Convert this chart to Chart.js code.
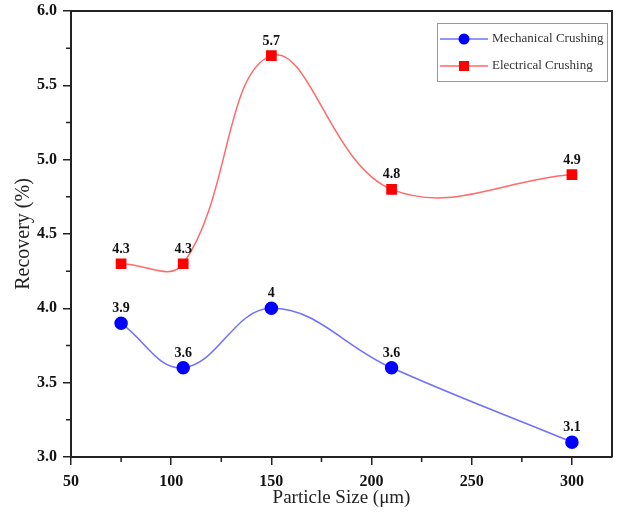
<!DOCTYPE html>
<html>
<head>
<meta charset="utf-8">
<script src="https://cdn.jsdelivr.net/npm/chart.js@4/dist/chart.umd.min.js"></script>
<style>
  html, body { margin: 0; padding: 0; background: #fff; }
  #wrap { width: 628px; height: 513px; }
</style>
</head>
<body>
<div id="wrap"><canvas id="chartdispArea" width="628" height="513"></canvas></div>
<script>
var particleSizes = [75, 106, 150, 210, 300];
var mechanicalRecovery = [3.9, 3.6, 4.0, 3.6, 3.1];
var electricalRecovery = [4.3, 4.3, 5.7, 4.8, 4.9];
var seriesNames = ['Mechanical Crushing', 'Electrical Crushing'];
var xMinorTicks = [75, 125, 175, 225, 275];
var yMinorTicks = [3.25, 3.75, 4.25, 4.75, 5.25, 5.75];

var serif = '"Liberation Serif", "DejaVu Serif", serif';

function toPoints(xs, ys) {
    return xs.map(function(x, i) { return { x: x, y: ys[i] }; });
}

// frame, minor ticks, value labels and the boxed legend
var decorations = {
    id: 'decorations',
    afterDraw: function(chart) {
        var c = chart.ctx, a = chart.chartArea;
        var xs = chart.scales.x, ys = chart.scales.y;
        c.save();
        c.strokeStyle = '#222';
        c.lineWidth = 2;
        c.beginPath();
        c.moveTo(a.left, a.top); c.lineTo(a.right, a.top); c.lineTo(a.right, a.bottom);
        c.stroke();

        c.lineWidth = 1.5;
        c.beginPath();
        xMinorTicks.forEach(function(v) {
            var px = xs.getPixelForValue(v);
            c.moveTo(px, a.bottom); c.lineTo(px, a.bottom + 5);
        });
        yMinorTicks.forEach(function(v) {
            var py = ys.getPixelForValue(v);
            c.moveTo(a.left, py); c.lineTo(a.left - 5, py);
        });
        c.stroke();

        // value labels
        c.fillStyle = '#111';
        c.font = 'bold 14px ' + serif;
        c.textAlign = 'center';
        c.textBaseline = 'alphabetic';
        chart.data.datasets.forEach(function(ds, i) {
            var meta = chart.getDatasetMeta(i);
            meta.data.forEach(function(pt, j) {
                c.fillText(String(ds.data[j].y), pt.x, pt.y - 11);
            });
        });

        // legend
        var lx = 437, ly = 23, lw = 170, lh = 58;
        c.fillStyle = '#fff';
        c.fillRect(lx, ly, lw, lh);
        c.strokeStyle = '#999';
        c.lineWidth = 1;
        c.strokeRect(lx + 0.5, ly + 0.5, lw, lh);
        chart.data.datasets.forEach(function(ds, i) {
            var yy = ly + 16 + i * 27;
            c.strokeStyle = ds.borderColor;
            c.lineWidth = 1.5;
            c.beginPath(); c.moveTo(lx + 3, yy); c.lineTo(lx + 51, yy); c.stroke();
            c.fillStyle = ds.pointBackgroundColor;
            if (ds.pointStyle === 'rect') {
                c.fillRect(lx + 22, yy - 5, 10, 10);
            } else {
                c.beginPath(); c.arc(lx + 27, yy, 5.5, 0, Math.PI * 2); c.fill();
            }
            c.fillStyle = '#333';
            c.font = '13px ' + serif;
            c.textAlign = 'left';
            c.textBaseline = 'middle';
            c.fillText(ds.label, lx + 55, yy);
        });
        c.restore();
    }
};

var ctx = document.getElementById('chartdispArea').getContext('2d');
var chart = new Chart(ctx, {
    type: 'line',
    data: {
        datasets: [{
            label: seriesNames[0],
            data: toPoints(particleSizes, mechanicalRecovery),
            borderColor: '#6f6fff',
            borderWidth: 1.5,
            pointBackgroundColor: '#0000ff',
            pointBorderColor: '#0000ff',
            pointStyle: 'circle',
            pointRadius: 6,
            tension: 0.4
        }, {
            label: seriesNames[1],
            data: toPoints(particleSizes, electricalRecovery),
            borderColor: '#ff6a6a',
            borderWidth: 1.5,
            pointBackgroundColor: '#ff0000',
            pointBorderColor: '#ff0000',
            pointStyle: 'rect',
            pointRadius: 6.5,
            tension: 0.4
        }]
    },
    options: {
        responsive: false,
        animation: false,
        layout: { padding: { top: 11, right: 16, left: 0, bottom: 0 } },
        plugins: { legend: { display: false }, tooltip: { enabled: false } },
        scales: {
            x: {
                type: 'linear',
                min: 50, max: 320,
                afterBuildTicks: function(s) { s.ticks = s.ticks.filter(function(t) { return t.value <= 300; }); },
                afterFit: function(s) { s.height = 56; s.paddingLeft = 0; s.paddingRight = 0; },
                border: { color: '#222', width: 2 },
                grid: { drawOnChartArea: false, tickLength: 8, tickColor: '#222', lineWidth: 1.5 },
                ticks: { stepSize: 50, includeBounds: false, autoSkip: false, color: '#111', padding: 7,
                    font: { family: serif, size: 16, weight: 'bold' } },
                title: { display: true, text: 'Particle Size (μm)', color: '#222', padding: { top: 0, bottom: 4 }, font: { family: serif, size: 19 } }
            },
            y: {
                min: 3, max: 6,
                afterFit: function(s) { s.width = 71; s.paddingTop = 0; s.paddingBottom = 0; },
                border: { color: '#222', width: 2 },
                grid: { drawOnChartArea: false, tickLength: 8, tickColor: '#222', lineWidth: 1.5 },
                ticks: { stepSize: 0.5, color: '#111', padding: 6,
                    callback: function(v) { return v.toFixed(1); },
                    font: { family: serif, size: 16, weight: 'bold' } },
                title: { display: true, text: 'Recovery (%)', color: '#222', padding: { top: 12, bottom: 0 }, font: { family: serif, size: 20 } }
            }
        }
    },
    plugins: [decorations]
});
</script>
</body>
</html>
